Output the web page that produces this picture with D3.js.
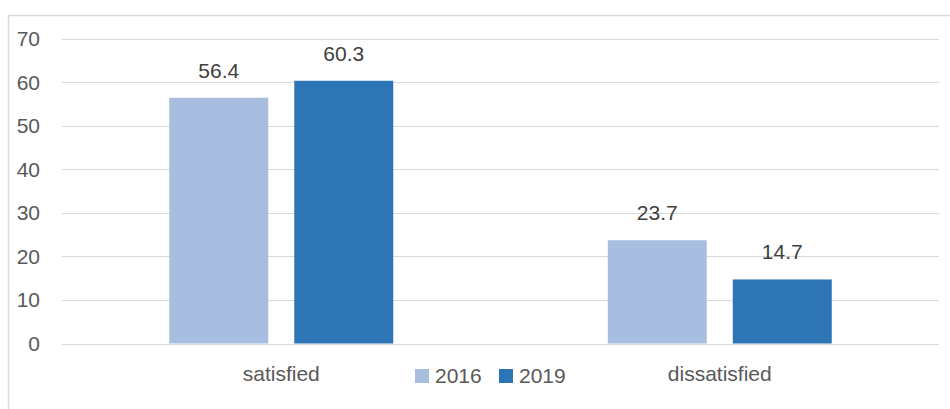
<!DOCTYPE html>
<html lang="en">
<head>
    <meta charset="UTF-8">
    <script src="https://d3js.org/d3.v7.min.js"></script>
    <style>
        body {
            margin: 0;
            background: #fff;
            font-family: "Liberation Sans", Arial, sans-serif;
        }
        .tick-label {
            font-size: 21px;
            fill: #595959;
        }
        .value-label {
            font-size: 21px;
            fill: #404040;
            text-anchor: middle;
        }
        .cat-label {
            font-size: 21px;
            fill: #595959;
            text-anchor: middle;
        }
    </style>
</head>
<body>
    <svg id="chart"></svg>
    <script>
        const categories = ["satisfied", "dissatisfied"];
        const series = ["2016", "2019"];
        const values2016 = [56.4, 23.7];
        const values2019 = [60.3, 14.7];
        const yTicks = [0, 10, 20, 30, 40, 50, 60, 70];
        const colors = ["#A7BEE1", "#2E75B6"];

        const data = categories.map((c, i) => ({
            cat: c,
            vals: [
                { s: series[0], v: values2016[i] },
                { s: series[1], v: values2019[i] }
            ]
        }));

        const width = 950;
        const height = 409;
        const margin = { top: 38.5, right: 11, bottom: 65.5, left: 62 };

        const svg = d3.select("#chart")
            .attr("width", width)
            .attr("height", height);

        // chart frame (runs past the right/bottom edge like the reference)
        svg.append("rect")
            .attr("x", 8.5)
            .attr("y", 15.5)
            .attr("width", 960)
            .attr("height", 420)
            .attr("fill", "none")
            .attr("stroke", "#d9d9d9")
            .attr("stroke-width", 1.5);

        const y = d3.scaleLinear()
            .domain([0, 70])
            .range([height - margin.bottom, margin.top]);

        const x0 = d3.scaleBand()
            .domain(categories)
            .range([margin.left, width - margin.right])
            .padding(0);

        const x1 = d3.scaleBand()
            .domain(series)
            .range([0, x0.bandwidth()])
            .paddingInner(0.208)
            .paddingOuter(0.858);

        const color = d3.scaleOrdinal().domain(series).range(colors);

        // gridlines
        svg.append("g")
            .selectAll("line")
            .data(yTicks)
            .enter()
            .append("line")
            .attr("x1", margin.left)
            .attr("x2", width - margin.right)
            .attr("y1", d => Math.round(y(d)) + 0.5)
            .attr("y2", d => Math.round(y(d)) + 0.5)
            .attr("stroke", "#d9d9d9")
            .attr("stroke-width", 1.2);

        svg.append("g")
            .selectAll("text")
            .data(yTicks)
            .enter()
            .append("text")
            .attr("class", "tick-label")
            .attr("x", 40)
            .attr("y", d => y(d))
            .attr("dy", "0.36em")
            .attr("text-anchor", "end")
            .text(d => d);

        const groups = svg.selectAll(".grp")
            .data(data)
            .enter()
            .append("g")
            .attr("transform", d => `translate(${x0(d.cat)},0)`);

        groups.selectAll("rect")
            .data(d => d.vals)
            .enter()
            .append("rect")
            .attr("x", d => x1(d.s))
            .attr("y", d => y(d.v))
            .attr("width", x1.bandwidth())
            .attr("height", d => y(0) - y(d.v))
            .attr("fill", d => color(d.s));

        groups.selectAll(".value-label")
            .data(d => d.vals)
            .enter()
            .append("text")
            .attr("class", "value-label")
            .attr("x", d => x1(d.s) + x1.bandwidth() / 2)
            .attr("y", d => y(d.v) - 20)
            .text(d => d.v.toFixed(1));

        svg.selectAll(".cat-label")
            .data(categories)
            .enter()
            .append("text")
            .attr("class", "cat-label")
            .attr("x", d => x0(d) + x0.bandwidth() / 2)
            .attr("y", 381)
            .text(d => d);

        // legend
        const legend = svg.append("g")
            .attr("transform", "translate(415,369)");

        const item = legend.selectAll("g")
            .data(series)
            .enter()
            .append("g")
            .attr("transform", (d, i) => `translate(${i * 84},0)`);

        item.append("rect")
            .attr("width", 14)
            .attr("height", 14)
            .attr("fill", d => color(d));

        item.append("text")
            .attr("class", "tick-label")
            .attr("x", 20)
            .attr("y", 14)
            .text(d => d);
    </script>
</body>
</html>
